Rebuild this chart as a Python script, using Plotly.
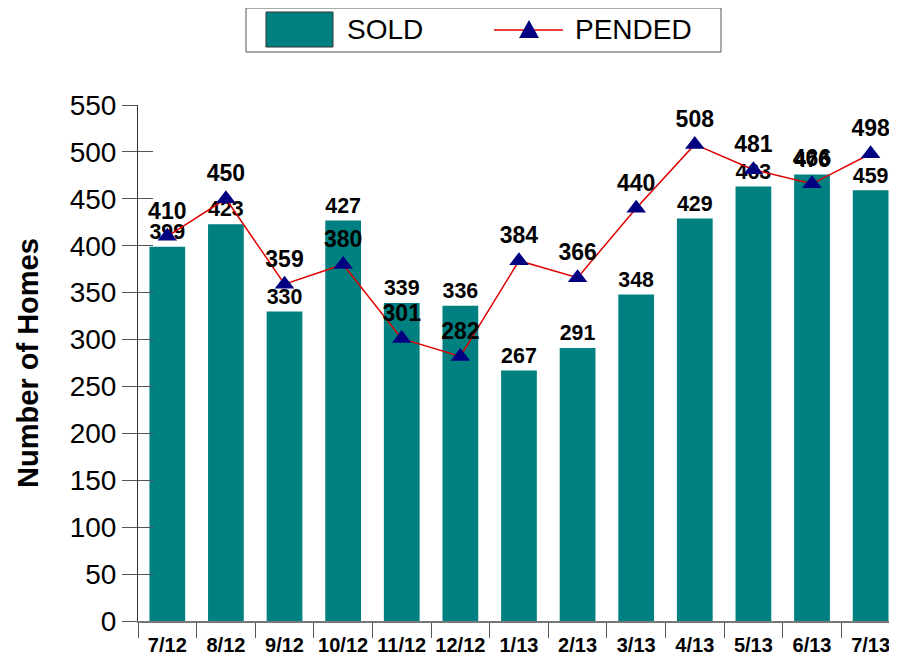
import plotly.graph_objects as go

months = ["7/12", "8/12", "9/12", "10/12", "11/12", "12/12", "1/13",
          "2/13", "3/13", "4/13", "5/13", "6/13", "7/13"]
sold = [399, 423, 330, 427, 339, 336, 267, 291, 348, 429, 463, 476, 459]
pended = [410, 450, 359, 380, 301, 282, 384, 366, 440, 508, 481, 466, 498]
y_ticks = [0, 50, 100, 150, 200, 250, 300, 350, 400, 450, 500, 550]

OFF = 8  # default page body margin
W, H = 897 - OFF, 658 - OFF
L, R, T, B = 138 - OFF, 0, 105 - OFF, 37
pw, ph = W - L - R, H - T - B

def px(x):  # page pixel -> paper
    return (x - OFF - L) / pw

def py(y):
    return (H - B - (y - OFF)) / ph

FONT = "Liberation Sans, Arial, sans-serif"
TEAL = "#008080"

fig = go.Figure()
fig.add_trace(go.Bar(
    x=months, y=sold, name="SOLD", width=0.61,
    marker=dict(color=TEAL, line=dict(width=0)),
    text=[str(v) for v in sold], textposition="outside",
    textfont=dict(family=FONT, size=23, color="black", weight="bold"),
    cliponaxis=False, showlegend=False,
))
fig.add_trace(go.Scatter(
    x=months, y=pended, name="PENDED", mode="lines+markers+text",
    line=dict(color="#e00000", width=1.5),
    marker=dict(symbol="triangle-up", size=17, color="#000080",
                line=dict(width=0)),
    text=[str(v) for v in pended], textposition="top center",
    textfont=dict(family=FONT, size=23, color="black", weight="bold"),
    cliponaxis=False, showlegend=False,
))

shapes = [
    dict(type="rect", xref="paper", yref="paper",
         x0=px(246), x1=px(721), y0=py(52), y1=py(8),
         line=dict(color="#555555", width=1), fillcolor="white"),
    dict(type="rect", xref="paper", yref="paper",
         x0=px(266), x1=px(333), y0=py(47), y1=py(12),
         line=dict(color="#333333", width=1), fillcolor=TEAL),
    dict(type="line", xref="paper", yref="paper",
         x0=px(494), x1=px(563), y0=py(30), y1=py(30),
         line=dict(color="#e00000", width=1.5)),
    dict(type="path", xref="paper", yref="paper",
         path="M {} {} L {} {} L {} {} Z".format(
             px(519), py(38), px(539), py(38), px(529), py(20)),
         line=dict(width=0), fillcolor="#000080"),
]

annotations = [
    dict(xref="paper", yref="paper", x=px(345), y=py(30), text="SOLD",
         showarrow=False, xanchor="left", yanchor="middle",
         font=dict(family=FONT, size=28, color="black")),
    dict(xref="paper", yref="paper", x=px(573), y=py(30), text="PENDED",
         showarrow=False, xanchor="left", yanchor="middle",
         font=dict(family=FONT, size=28, color="black")),
]

fig.update_layout(
    width=W, height=H,
    margin=dict(l=L, r=R, t=T, b=B, pad=0),
    paper_bgcolor="white", plot_bgcolor="white",
    showlegend=False, bargap=0.39,
    shapes=shapes, annotations=annotations,
    xaxis=dict(
        type="category", range=[-0.5, 12.45],
        showline=True, linecolor="#777777", linewidth=1.5,
        ticks="outside", tickson="boundaries", ticklen=15,
        tickcolor="#555555", tickwidth=1,
        showgrid=False, zeroline=False, tickangle=0, automargin=False,
        ticklabelstandoff=5,
        tickfont=dict(family=FONT, size=20, color="black", weight="bold"),
    ),
    yaxis=dict(
        range=[0, 550], tickvals=y_ticks,
        showline=True, linecolor="#333333", linewidth=1,
        ticks="outside", ticklen=15, tickcolor="#555555", tickwidth=1,
        showgrid=False, zeroline=False,
        tickfont=dict(family=FONT, size=28, color="black"),
        title=dict(text="Number of Homes", standoff=22,
                   font=dict(family=FONT, size=29, color="black",
                             weight="bold")),
    ),
    yaxis2=dict(
        range=[0, 550], tickvals=y_ticks, overlaying="y", side="left",
        showline=False, showticklabels=False, showgrid=False,
        zeroline=False, ticks="inside", ticklen=15,
        tickcolor="#555555", tickwidth=1,
    ),
)
# invisible helper trace to activate the overlaid axis carrying inner tick marks
fig.add_trace(go.Scatter(x=[months[0]], y=[0], yaxis="y2", mode="markers",
                         marker=dict(opacity=0), hoverinfo="skip",
                         showlegend=False))

fig.write_html("out.html")
